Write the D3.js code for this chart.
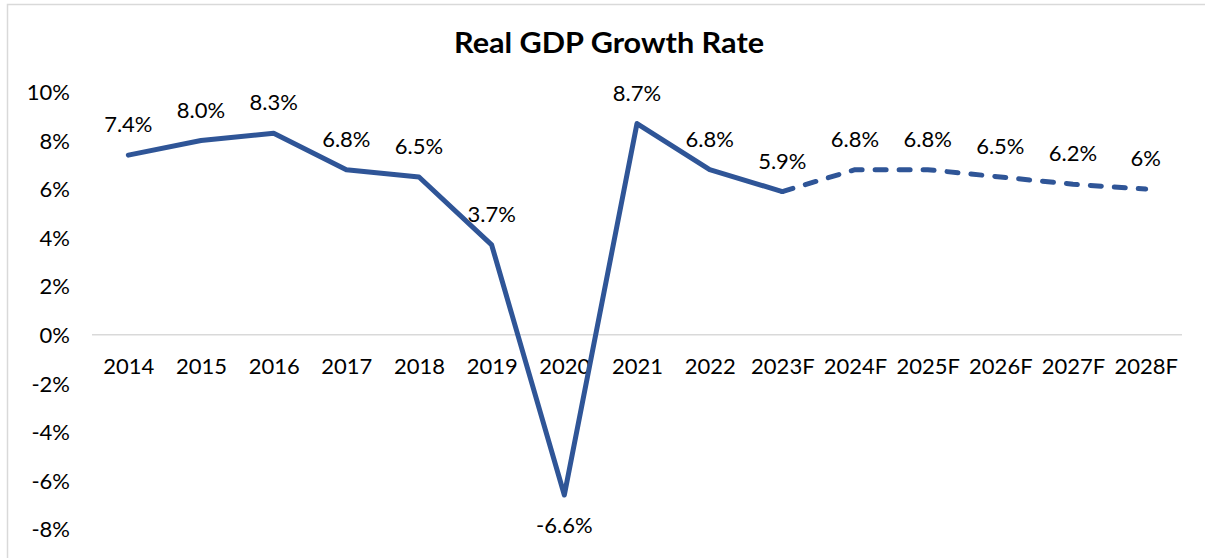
<!DOCTYPE html>
<html>
<head>
<meta charset="utf-8">
<script src="https://cdn.jsdelivr.net/npm/d3@7"></script>
<style>
  html, body { margin: 0; padding: 0; background: #fff; }
  svg { display: block; }
  text { font-family: "Century Gothic", "Lato", "Liberation Sans", sans-serif; fill: #000; }
</style>
</head>
<body>
<svg id="chart" width="1205" height="558"></svg>
<script>
const title = "Real GDP Growth Rate";
const categories = ["2014","2015","2016","2017","2018","2019","2020","2021","2022","2023F","2024F","2025F","2026F","2027F","2028F"];
const growth = [7.4, 8.0, 8.3, 6.8, 6.5, 3.7, -6.6, 8.7, 6.8, 5.9, 6.8, 6.8, 6.5, 6.2, 6.0];
const dataLabels = ["7.4%","8.0%","8.3%","6.8%","6.5%","3.7%","-6.6%","8.7%","6.8%","5.9%","6.8%","6.8%","6.5%","6.2%","6%"];
const yTicks = [10, 8, 6, 4, 2, 0, -2, -4, -6, -8];
const forecastStart = "2023F";

const svg = d3.select("#chart");
const lineColor = "#2F5597";

// chart frame
svg.append("rect")
  .attr("x", 7.5).attr("y", 4.5)
  .attr("width", 1400).attr("height", 800)
  .attr("fill", "none").attr("stroke", "#D9D9D9").attr("stroke-width", 1.5);

const x = d3.scalePoint().domain(categories).range([92, 1182]).padding(0.5);
const y = d3.scaleLinear().domain([-8, 10]).range([529, 92]);

// title
svg.append("text")
  .attr("x", 609).attr("y", 53)
  .attr("text-anchor", "middle")
  .attr("font-size", 28).attr("font-weight", "bold")
  .attr("textLength", 310).attr("lengthAdjust", "spacingAndGlyphs")
  .text(title);

// y axis labels
const yAxis = d3.axisLeft(y).tickValues(yTicks).tickFormat(d => d + "%").tickSize(0).tickPadding(0);
const gy = svg.append("g").attr("transform", "translate(70,0)").call(yAxis);
gy.select(".domain").remove();
gy.selectAll("text").attr("font-size", 22).attr("font-family", null).attr("fill", "#000").attr("dy", "0.35em");

// zero line
svg.append("line")
  .attr("x1", 92).attr("x2", 1182)
  .attr("y1", y(0)).attr("y2", y(0))
  .attr("stroke", "#D9D9D9").attr("stroke-width", 1.5);

// x category labels
const xAxis = d3.axisBottom(x).tickSize(0).tickPadding(0);
const gx = svg.append("g").attr("transform", "translate(0," + 358 + ")").call(xAxis);
gx.select(".domain").remove();
gx.selectAll("text").attr("font-size", 22).attr("font-family", null).attr("fill", "#000").attr("dy", "0.71em");

// line
const pts = categories.map((c, i) => ({c, v: growth[i], label: dataLabels[i], i}));
const fi = categories.indexOf(forecastStart);
const line = d3.line().x(d => x(d.c)).y(d => y(d.v));

svg.append("path")
  .datum(pts.slice(0, fi + 1))
  .attr("d", line)
  .attr("fill", "none").attr("stroke", lineColor).attr("stroke-width", 5)
  .attr("stroke-linejoin", "round").attr("stroke-linecap", "round");

svg.append("path")
  .datum(pts.slice(fi))
  .attr("d", line)
  .attr("fill", "none").attr("stroke", lineColor).attr("stroke-width", 5)
  .attr("stroke-linejoin", "round").attr("stroke-linecap", "round")
  .attr("stroke-dasharray", "11,13");

// data labels
svg.append("g").selectAll("text").data(pts).join("text")
  .attr("x", d => x(d.c))
  .attr("y", d => d.v < 0 ? y(d.v) + 38 : y(d.v) - 23)
  .attr("text-anchor", "middle")
  .attr("font-size", 22)
  .text(d => d.label);
</script>
</body>
</html>
